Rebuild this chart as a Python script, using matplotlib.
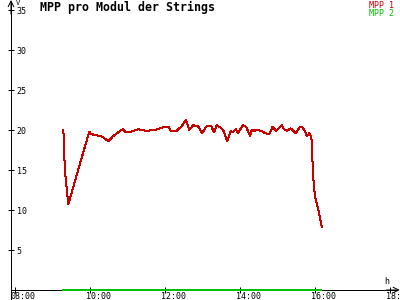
import matplotlib
matplotlib.use("Agg")
import matplotlib.pyplot as plt
from matplotlib.transforms import ScaledTranslation

# ---- data ----
mpp1_hours = [9.29, 9.33, 9.42, 9.98, 10.02, 10.31, 10.49, 10.62, 10.75, 10.87, 10.96,
              11.11, 11.29, 11.49, 11.73, 11.87, 11.97, 12.09, 12.15, 12.31, 12.45,
              12.56, 12.65, 12.75, 12.88, 12.99, 13.11, 13.23, 13.31, 13.38, 13.51,
              13.57, 13.66, 13.75, 13.81, 13.89, 13.95, 14.07, 14.16, 14.22, 14.27,
              14.31, 14.37, 14.45, 14.58, 14.67, 14.78, 14.87, 14.96, 15.11, 15.17,
              15.26, 15.35, 15.49, 15.60, 15.67, 15.73, 15.78, 15.85, 15.89, 15.91,
              15.95, 16.00, 16.09, 16.18]
mpp1_values = [20.0, 15.0, 10.7, 19.8, 19.5, 19.2, 18.6, 19.25, 19.7, 20.1, 19.7,
               19.8, 20.1, 19.9, 20.0, 20.2, 20.4, 20.4, 19.9, 19.9, 20.5,
               21.3, 20.0, 20.6, 20.5, 19.6, 20.5, 20.5, 19.7, 20.6, 20.2,
               19.8, 18.6, 19.9, 19.7, 20.1, 19.6, 20.6, 20.4, 19.8, 19.25,
               20.0, 19.9, 20.0, 19.9, 19.6, 19.5, 20.4, 19.9, 20.6, 20.1,
               19.9, 20.2, 19.6, 20.4, 20.3, 19.9, 19.2, 19.6, 19.25, 18.75,
               14.2, 11.7, 10.0, 7.9]
mpp2_hours = [9.28, 16.16]
mpp2_values = [0.0, 0.0]

x_ticks = [8, 10, 12, 14, 16, 18]
x_labels = ["08:00", "10:00", "12:00", "14:00", "16:00", "18:00"]
y_ticks = [5, 10, 15, 20, 25, 30, 35]
y_labels = ["5", "10", "15", "20", "25", "30", "35"]

title = "MPP pro Modul der Strings"
series_names = ["MPP 1", "MPP 2"]
colors = ["#c80000", "#00c000"]

# ---- figure ----
mono = "DejaVu Sans Mono"
fig = plt.figure(figsize=(4, 3), dpi=100)
ax = fig.add_axes([0, 0, 1, 1])
ax.set_xlim(7.6, 18.267)
ax.set_ylim(-1.25, 36.25)
ax.patch.set_visible(False)

px = 0.72  # one pixel in points

yaxis_x = 7.893
for s in ["top", "left"]:
    ax.spines[s].set_visible(False)
ax.spines["right"].set_position(("data", yaxis_x))
ax.spines["bottom"].set_position(("data", 0))
ax.spines["right"].set_bounds(-1.25, 36.0)
ax.spines["bottom"].set_bounds(yaxis_x, 18.2)
for s in ["right", "bottom"]:
    ax.spines[s].set_linewidth(px)
    ax.spines[s].set_antialiased(False)

ax.yaxis.tick_right()
ax.set_yticks(y_ticks)
ax.set_yticklabels(y_labels, fontsize=6, family=mono)
ax.tick_params(axis="y", direction="inout", length=5, width=px, pad=1.5)
ax.set_xticks(x_ticks)
ax.set_xticklabels(x_labels, fontsize=6, family=mono, ha="left")
ax.tick_params(axis="x", direction="inout", length=5, width=px, pad=-1)
for lbl in ax.get_xticklabels():
    lbl.set_transform(lbl.get_transform() + ScaledTranslation(-4 / 100, 0, fig.dpi_scale_trans))

# arrows
ax.annotate("", xy=(yaxis_x, 36.25), xytext=(yaxis_x, 34.5),
            arrowprops=dict(arrowstyle="->", lw=px, color="black", shrinkA=0, shrinkB=0))
ax.annotate("", xy=(18.26, 0), xytext=(17.9, 0),
            arrowprops=dict(arrowstyle="->", lw=px, color="black", shrinkA=0, shrinkB=0))

ax.plot(mpp2_hours, mpp2_values, color=colors[1], lw=1.4, antialiased=False, zorder=3)
ax.plot(mpp1_hours, mpp1_values, color=colors[0], lw=px, antialiased=False, zorder=4)

fig.text(40 / 400, 1 - 7.5 / 300, title, fontsize=8.4, family=mono, fontweight="bold",
         ha="left", va="center")
fig.text(394 / 400, 1 - 5 / 300, series_names[0], fontsize=6, family=mono,
         color=colors[0], ha="right", va="center")
fig.text(394 / 400, 1 - 13 / 300, series_names[1], fontsize=6, family=mono,
         color=colors[1], ha="right", va="center")
fig.text(16 / 400, 1 - 3 / 300, "V", fontsize=5, family=mono, ha="left", va="center")
fig.text(387 / 400, 1 - 281.5 / 300, "h", fontsize=6, family=mono, ha="center", va="center")

fig.savefig("out.png", dpi=100)
